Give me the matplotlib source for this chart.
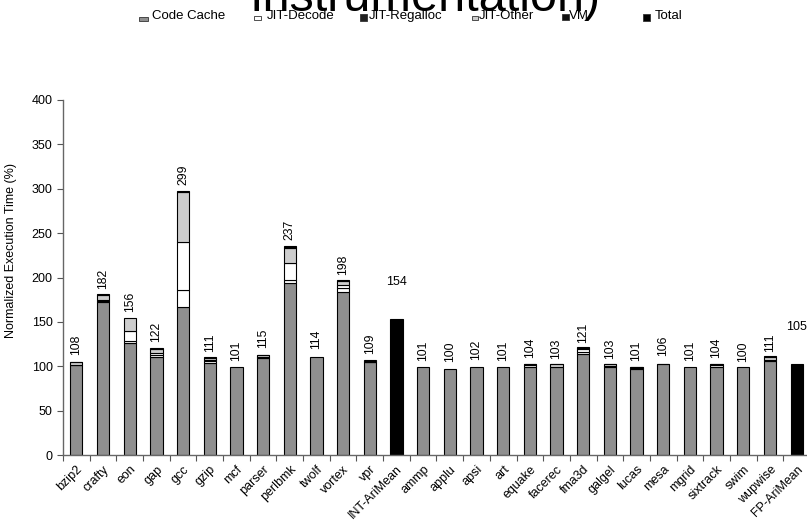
"""Stacked execution-time breakdown per SPEC benchmark (normalized to native)."""
import matplotlib

matplotlib.use("Agg")
import matplotlib.pyplot as plt
from matplotlib.patches import Rectangle
import numpy as np

plt.rcParams["font.family"] = ["Liberation Sans", "DejaVu Sans"]

benchmarks = ["bzip2", "crafty", "eon", "gap", "gcc", "gzip", "mcf", "parser",
              "perlbmk", "twolf", "vortex", "vpr", "INT-AriMean",
              "ammp", "applu", "apsi", "art", "equake", "facerec", "fma3d",
              "galgel", "lucas", "mesa", "mgrid", "sixtrack", "swim", "wupwise",
              "FP-AriMean"]

code_cache = [101, 172, 126, 110, 167, 104, 99, 109, 194, 110, 184, 104.5, 0,
              99.5, 96.5, 99.5, 99.5, 99, 99, 114, 99, 96.5, 102, 99.5, 99, 99.5, 106, 0]
jit_decode = [0, 2, 3, 3, 19, 1.5, 0, 1, 3, 0, 4, 0.5, 0,
              0, 0, 0, 0, 2, 0, 2.5, 1, 2, 0, 0, 2, 0, 0.5, 0]
jit_regalloc = [0.5, 1, 11, 2, 54, 1, 0, 0.5, 19, 0, 4, 0.5, 0,
                0, 0, 0, 0, 0.5, 0, 2.5, 0, 0.5, 0, 0, 0.5, 0, 0, 0]
jit_other = [3, 5, 14, 5, 56, 3, 0, 2, 17, 0, 4, 1.5, 0,
             0, 0, 0, 0, 0.5, 3, 2, 2, 0.5, 0.5, 0, 0.5, 0, 4, 0]
vm = [0.5, 1, 0, 1, 2, 0.5, 0, 0.5, 2, 0, 1, 0, 0,
      0, 0, 0, 0, 0.5, 0.5, 0.5, 0.5, 0, 0, 0, 0.5, 0, 0.5, 0]
total = [0] * 12 + [153] + [0] * 14 + [102]

bar_labels = [108, 182, 156, 122, 299, 111, 101, 115, 237, 114, 198, 109, 154,
              101, 100, 102, 101, 104, 103, 121, 103, 101, 106, 101, 104, 100, 111, 105]

series = [("Code Cache", code_cache, "#8f8f8f"),
          ("JIT-Decode", jit_decode, "#ffffff"),
          ("JIT-Regalloc", jit_regalloc, "#ffffff"),
          ("JIT-Other", jit_other, "#cdcdcd"),
          ("VM", vm, "#000000"),
          ("Total", total, "#000000")]

fig = plt.figure(figsize=(8.07, 5.29), dpi=100)
ax = fig.add_axes([63 / 807, 74 / 529, 747 / 807, 355 / 529])

x = np.arange(len(benchmarks))
bottom = np.zeros(len(benchmarks))
for name, vals, color in series:
    vals = np.asarray(vals, dtype=float)
    edges = ["black" if v > 0 else "none" for v in vals]
    ax.bar(x, vals, width=0.46, bottom=bottom, color=color,
           edgecolor=edges, linewidth=0.8)
    bottom += vals

for i, (top, lab) in enumerate(zip(bottom, bar_labels)):
    if total[i] > 0:
        ax.text(i, top + 42, str(lab), ha="center", va="center", fontsize=9)
    else:
        ax.text(i, lab + 5, str(lab), ha="center", va="bottom",
                rotation=90, fontsize=8.8)

ax.set_xlim(-0.5, len(benchmarks) - 0.5)
ax.set_ylim(0, 400)
ax.set_yticks(range(0, 401, 50))
ax.set_xticks(np.arange(len(benchmarks) + 1) - 0.5)
ax.set_xticklabels([])
ax.set_xticks(x, minor=True)
ax.set_xticklabels(benchmarks, minor=True, rotation=45, ha="right",
                   rotation_mode="anchor", fontsize=9)
ax.tick_params(axis="x", which="minor", length=0, pad=6)
ax.tick_params(axis="x", which="major", length=4, color="#555555")
ax.tick_params(axis="y", length=4, color="#555555", labelsize=9)
for side in ("top", "right"):
    ax.spines[side].set_visible(False)
for side in ("left", "bottom"):
    ax.spines[side].set_color("#666666")
    ax.spines[side].set_linewidth(1.0)
ax.set_ylabel("Normalized Execution Time (%)", fontsize=9)
ax.yaxis.set_label_coords(-0.062, 0.577)

# title, its first line lies above the visible canvas
fig.text(425 / 807, 1 - 11 / 529, "Instrumentation)", ha="center",
         va="baseline", fontsize=35, zorder=1)

# legend row drawn by hand to keep Excel's spacing
legend_items = [("Code Cache", 139, 17, 9, 4, "#8f8f8f", 152),
                ("JIT-Decode", 254, 16, 7, 4, "#ffffff", 267),
                ("JIT-Regalloc", 360, 14, 7, 7, "#222222", 369),
                ("JIT-Other", 472, 16, 6, 4, "#cdcdcd", 479),
                ("VM", 562, 14, 7, 6, "#111111", 569),
                ("Total", 643, 14, 7, 7, "#000000", 655)]
for name, mx, my, mw, mh, color, tx in legend_items:
    fig.patches.append(Rectangle((mx / 807, 1 - (my + mh) / 529), mw / 807, mh / 529,
                                 transform=fig.transFigure, facecolor=color,
                                 edgecolor="#333333", linewidth=0.6, zorder=3))
    fig.text(tx / 807, 1 - 16 / 529, name, ha="left", va="center",
             fontsize=9.5, zorder=3)

fig.savefig("out.png", dpi=100)
plt.close(fig)
